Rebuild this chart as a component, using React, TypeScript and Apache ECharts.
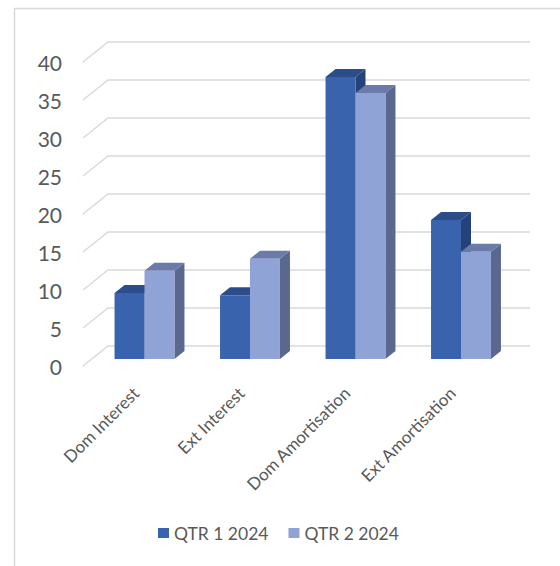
import React, { useEffect, useRef } from "react";
import * as echarts from "echarts";

const categories = ["Dom Interest", "Ext Interest", "Dom Amortisation", "Ext Amortisation"];
const seriesNames = ["QTR 1 2024", "QTR 2 2024"];
const q1Values = [8.7, 8.4, 37.1, 18.3];
const q2Values = [11.6, 13.2, 35.0, 14.1];
const yTicks = [0, 5, 10, 15, 20, 25, 30, 35, 40];

// 3D look: full floor depth vector and the depth slice the bars occupy
const DEPTH_X = 25;
const DEPTH_Y = -20;
const BAR_FRONT = 0.35;
const BAR_BACK = 0.75;

const palette = [
  { front: "#3A63AE", top: "#2C4C8A", side: "#25427A" },
  { front: "#8FA3D6", top: "#6A7BA9", side: "#5A688E" },
];

const TEXT = "#595959";
const FONT = "Lato, 'Open Sans', sans-serif";

function barRenderer(seriesIdx: number) {
  return (params: any, api: any) => {
    const cat = api.value(0);
    const val = api.value(1);
    const base = api.coord([cat, 0]);
    const topPt = api.coord([cat, val]);
    const catW = api.size([1, 0])[0];
    const barW = catW * 0.284;
    const fx = DEPTH_X * BAR_FRONT;
    const fy = DEPTH_Y * BAR_FRONT;
    const dx = DEPTH_X * (BAR_BACK - BAR_FRONT);
    const dy = DEPTH_Y * (BAR_BACK - BAR_FRONT);
    const x0 = base[0] - barW + seriesIdx * barW + fx;
    const x1 = x0 + barW;
    const yB = base[1] + fy;
    const yT = topPt[1] + fy;
    const c = palette[seriesIdx];
    return {
      type: "group",
      children: [
        {
          type: "polygon",
          shape: { points: [[x1, yB], [x1 + dx, yB + dy], [x1 + dx, yT + dy], [x1, yT]] },
          style: { fill: c.side },
        },
        {
          type: "polygon",
          shape: { points: [[x0, yT], [x1, yT], [x1 + dx, yT + dy], [x0 + dx, yT + dy]] },
          style: { fill: c.top },
        },
        {
          type: "rect",
          shape: { x: x0, y: yT, width: barW, height: yB - yT },
          style: { fill: c.front },
        },
      ],
    };
  };
}

export default function App() {
  const ref = useRef<HTMLDivElement>(null);

  useEffect(() => {
    if (!ref.current) return;
    const chart = echarts.init(ref.current, null, { renderer: "svg" });

    const option: any = {
      animation: false,
      backgroundColor: "#ffffff",
      textStyle: { fontFamily: FONT },
      graphic: [
        {
          type: "rect",
          silent: true,
          shape: { x: 14.5, y: 8.5, width: 700, height: 700 },
          style: { fill: "none", stroke: "#D9D9D9", lineWidth: 1.5 },
        },
      ],
      legend: {
        left: 153,
        top: 519,
        itemWidth: 11,
        itemHeight: 10,
        itemGap: 20,
        icon: "rect",
        data: seriesNames,
        textStyle: { color: TEXT, fontSize: 17.5, fontFamily: FONT },
      },
      grid: { left: 83, right: 55, top: 62, bottom: 200 },
      xAxis: {
        type: "category",
        data: categories,
        axisLine: { show: false },
        axisTick: { show: false },
        splitLine: { show: false },
        axisLabel: {
          interval: 0,
          rotate: 45,
          margin: 24,
          color: TEXT,
          fontSize: 17,
          fontFamily: FONT,
        },
      },
      yAxis: {
        type: "value",
        min: 0,
        max: 40,
        interval: 5,
        axisLine: { show: false },
        axisTick: { show: false },
        splitLine: { show: false },
        axisLabel: { color: TEXT, fontSize: 21, margin: 21, fontFamily: FONT },
      },
      series: [
        {
          name: "gridlines",
          type: "custom",
          silent: true,
          z: 1,
          data: yTicks.map((v) => [0, v]),
          renderItem: (params: any, api: any) => {
            const y = api.coord([0, api.value(1)])[1];
            const cs = params.coordSys;
            const left = cs.x;
            const right = cs.x + cs.width;
            return {
              type: "polyline",
              shape: {
                points: [
                  [left, y],
                  [left + DEPTH_X, y + DEPTH_Y],
                  [right + DEPTH_X, y + DEPTH_Y],
                ],
              },
              style: { stroke: "#D9D9D9", lineWidth: 1.5, fill: "none" },
            };
          },
        },
        {
          name: seriesNames[0],
          type: "custom",
          z: 2,
          itemStyle: { color: palette[0].front },
          data: q1Values.map((v, i) => [i, v]),
          renderItem: barRenderer(0),
        },
        {
          name: seriesNames[1],
          type: "custom",
          z: 3,
          itemStyle: { color: palette[1].front },
          data: q2Values.map((v, i) => [i, v]),
          renderItem: barRenderer(1),
        },
      ],
    };

    chart.setOption(option);
    return () => chart.dispose();
  }, []);

  return (
    <div
      ref={ref}
      style={{ position: "fixed", left: 0, top: 0, width: 560, height: 566 }}
    />
  );
}
